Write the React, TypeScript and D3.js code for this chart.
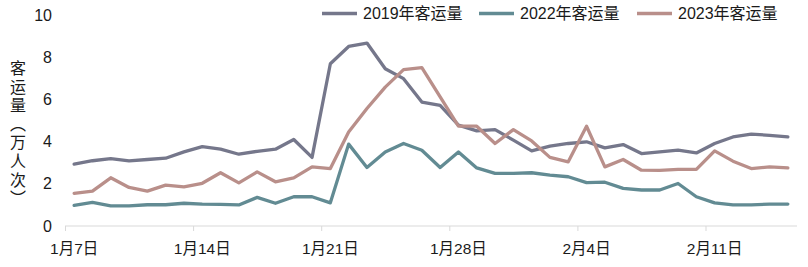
import React from "react";
import * as d3 from "d3";

const dates: string[] = [];
for (let i = 0; i < 40; i++) {
  const d = new Date(2023, 0, 7 + i);
  dates.push(`${d.getMonth() + 1}月${d.getDate()}日`);
}

const series2019 = [2.94, 3.1, 3.2, 3.09, 3.16, 3.22, 3.52, 3.77, 3.65, 3.41, 3.55, 3.65, 4.11, 3.26, 7.71, 8.53, 8.69, 7.47, 7.0, 5.89, 5.73, 4.79, 4.52, 4.58, 4.08, 3.57, 3.79, 3.92, 4.0, 3.71, 3.87, 3.44, 3.52, 3.6, 3.47, 3.92, 4.23, 4.36, 4.31, 4.23];
const series2022 = [0.98, 1.12, 0.96, 0.96, 1.01, 1.01, 1.08, 1.04, 1.03, 1.0, 1.36, 1.08, 1.39, 1.39, 1.1, 3.89, 2.78, 3.52, 3.92, 3.6, 2.78, 3.52, 2.76, 2.5, 2.5, 2.53, 2.42, 2.34, 2.06, 2.08, 1.79, 1.71, 1.71, 2.02, 1.39, 1.1, 1.0, 1.0, 1.04, 1.04];
const series2023 = [1.55, 1.66, 2.29, 1.83, 1.66, 1.94, 1.86, 2.03, 2.53, 2.05, 2.57, 2.1, 2.29, 2.81, 2.73, 4.47, 5.58, 6.6, 7.43, 7.52, 6.13, 4.74, 4.74, 3.92, 4.58, 4.04, 3.26, 3.05, 4.74, 2.81, 3.16, 2.65, 2.64, 2.69, 2.69, 3.57, 3.08, 2.73, 2.81, 2.76];

const seriesNames = ["2019年客运量", "2022年客运量", "2023年客运量"];
const seriesData = [series2019, series2022, series2023];
const colors = ["#75778b", "#628b93", "#b98f8a"];
const yTicks = [0, 2, 4, 6, 8, 10];
const yTitle = "客运量（万人次）";

const W = 808;
const H = 267;
const FONT = "'Liberation Sans', 'Noto Sans CJK SC', sans-serif";

export default function App() {
  const x = d3.scaleBand<string>().domain(dates).range([65, 797]).padding(0);
  const y = d3.scaleLinear().domain([0, 10]).range([226, 15.5]);
  const cx = (i: number) => (x(dates[i]) as number) + x.bandwidth() / 2;
  const line = d3
    .line<number>()
    .x((_, i) => cx(i))
    .y((v) => y(v));

  const tickIdx = dates.map((_, i) => i).filter((i) => i % 7 === 0);
  const legendX = [322, 479, 637];

  return (
    <svg width={W} height={H} style={{ position: "absolute", left: 0, top: 0, background: "#fff" }} fontFamily={FONT}>
      {/* x axis */}
      <line x1={65} x2={797} y1={y(0)} y2={y(0)} stroke="#d9d9d9" strokeWidth={1} />
      {tickIdx.map((i) => (
        <line key={i} x1={(x(dates[i]) as number) + 0.5} x2={(x(dates[i]) as number) + 0.5} y1={y(0)} y2={y(0) + 5} stroke="#d9d9d9" strokeWidth={1} />
      ))}
      {tickIdx.map((i) => (
        <text key={"l" + i} x={cx(i)} y={254} textAnchor="middle" fontSize={15.5} fill="#1a1a1a">
          {dates[i]}
        </text>
      ))}
      {/* y ticks */}
      {yTicks.map((t) => (
        <text key={t} x={52} y={y(t) + 5.5} textAnchor="end" fontSize={16} fill="#1a1a1a">
          {t}
        </text>
      ))}
      {/* y title */}
      <text x={18} y={60} fontSize={16} letterSpacing={2.6} fill="#1a1a1a" style={{ writingMode: "vertical-rl" as any, textOrientation: "upright" as any }} fontFamily="'Noto Sans CJK SC', sans-serif">
        {yTitle}
      </text>
      {/* lines */}
      {seriesData.map((s, k) => (
        <path key={k} d={line(s) || ""} fill="none" stroke={colors[k]} strokeWidth={3.3} strokeLinejoin="round" strokeLinecap="round" />
      ))}
      {/* legend */}
      {seriesNames.map((n, k) => (
        <g key={n}>
          <line x1={legendX[k]} x2={legendX[k] + 35} y1={13.5} y2={13.5} stroke={colors[k]} strokeWidth={3.3} />
          <text x={legendX[k] + 41} y={19} fontSize={16} fill="#1a1a1a">
            {n}
          </text>
        </g>
      ))}
    </svg>
  );
}
